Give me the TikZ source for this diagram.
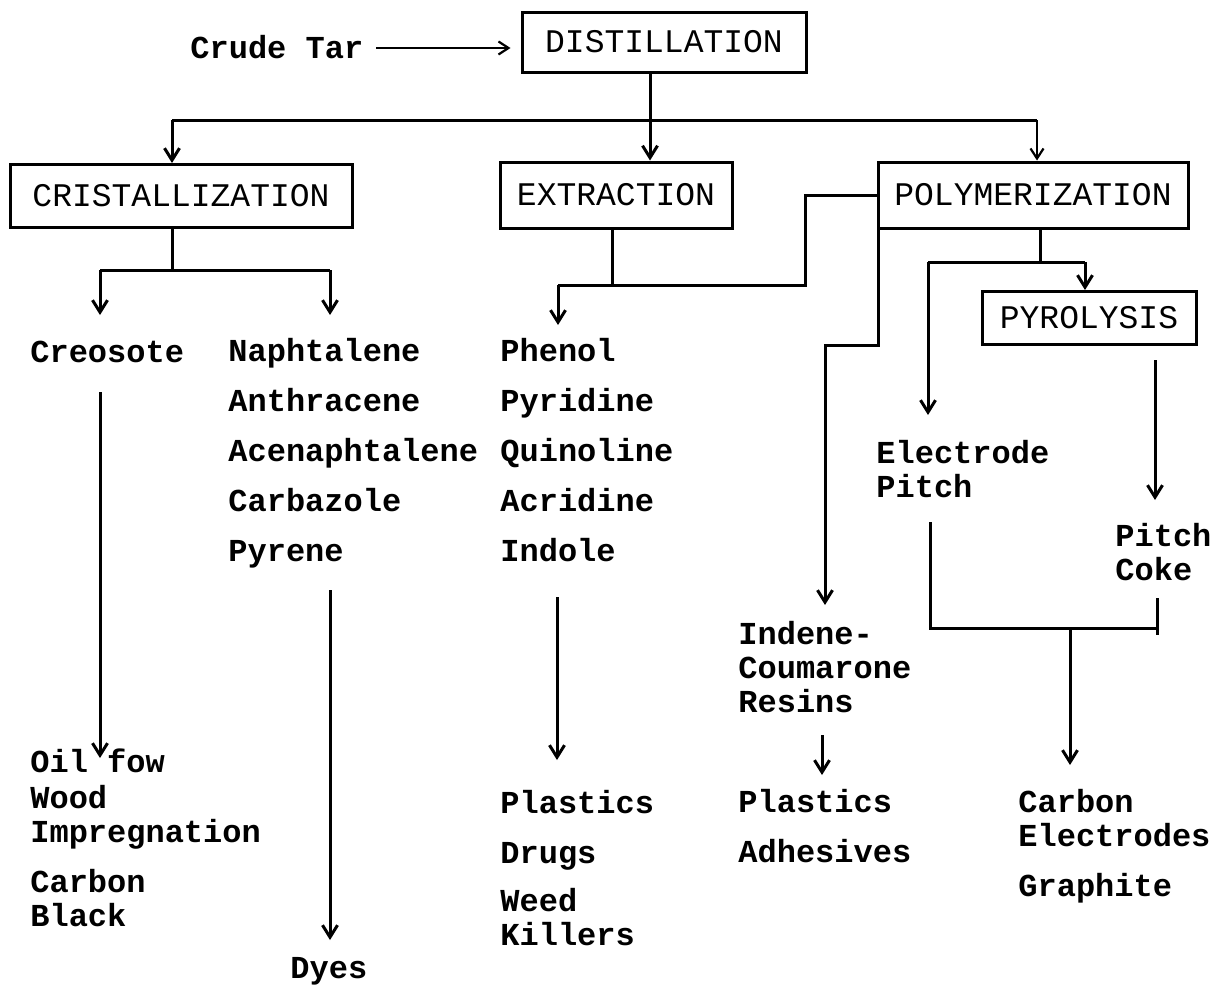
\documentclass[tikz,border=0pt]{standalone}
\usepackage{fontspec}
\setmonofont{Liberation Mono}
\usetikzlibrary{arrows.meta}
\begin{document}
\begin{tikzpicture}[x=0.5pt,y=-0.5pt,
  txt/.style={anchor=base west,inner sep=0pt,align=left,
    font=\ttfamily\bfseries\fontsize{16}{17}\selectfont},
  lst/.style={txt,font=\ttfamily\bfseries\fontsize{16}{25}\selectfont},
  proc/.style={draw,line width=1.5pt,inner sep=0pt,
    font=\ttfamily\fontsize{16.5}{17}\selectfont},
  ln/.style={line width=1.5pt},
  arr/.style={ln,-{Straight Barb[length=6pt,width=7.5pt]}},
  thinarr/.style={line width=1.1pt,-{Straight Barb[length=5pt,width=6.5pt]}}]
\useasboundingbox (0,0) rectangle (1216,991);

% process boxes
\node[proc,minimum width=142pt,minimum height=30pt] (dist) at (664,42) {DISTILLATION};
\node[proc,minimum width=171pt,minimum height=31.5pt] (crist) at (181,196) {CRISTALLIZATION};
\node[proc,minimum width=116pt,minimum height=33pt] (extr) at (616,195) {EXTRACTION};
\node[proc,minimum width=155pt,minimum height=33pt] (poly) at (1033,195) {POLYMERIZATION};
\node[proc,minimum width=107pt,minimum height=26.5pt] (pyro) at (1089,318) {PYROLYSIS};

% texts (base anchor = baseline of the last line)
\node[txt] (crude) at (190,58) {Crude Tar};
\node[txt] (creo) at (30,362) {Creosote};
\node[lst] (naph) at (228,561)
  {Naphtalene\\Anthracene\\Acenaphtalene\\Carbazole\\Pyrene};
\node[lst] (phen) at (500,561)
  {Phenol\\Pyridine\\Quinoline\\Acridine\\Indole};
\node[txt] (elp) at (876,497) {Electrode\\Pitch};
\node[txt] (pc) at (1115,580) {Pitch\\Coke};
\node[txt] (ind) at (738,712) {Indene-\\Coumarone\\Resins};
\node[txt] (pl2) at (738,862) {Plastics\\[8pt]Adhesives};
\node[txt] (ce) at (1018,896) {Carbon\\Electrodes\\[8pt]Graphite};
\node[txt] (oil) at (30,772) {Oil fow};
\node[txt] (wood) at (30,926) {Wood\\Impregnation\\[8pt]Carbon\\Black};
\node[txt] (pl1) at (500,945) {Plastics\\[8pt]Drugs\\[7pt]Weed\\Killers};
\node[txt] (dyes) at (290,978) {Dyes};

% coordinates
\coordinate (crA) at (376,48);
\coordinate (trunk) at (650,0);
\coordinate (busL) at (172,120);
\coordinate (busR) at (1037,120);
\coordinate (cjL) at (100,270);
\coordinate (cj) at (172,270);
\coordinate (cjR) at (330,270);
\coordinate (tCreo) at (100,315);
\coordinate (tNaph) at (330,315);
\coordinate (ejL) at (558,285);
\coordinate (ej) at (612,285);
\coordinate (ejR) at (805,285);
\coordinate (tPhen) at (558,325);
\coordinate (ic1) at (825,345);
\coordinate (tInd) at (825,605);
\coordinate (pjL) at (928,262);
\coordinate (pj) at (1040,262);
\coordinate (pjR) at (1085,262);
\coordinate (tElp) at (928,415);
\coordinate (pyS) at (1155,360);
\coordinate (tPc) at (1155,500);
\coordinate (jL) at (930,522);
\coordinate (jLb) at (930,628);
\coordinate (jRt) at (1157,598);
\coordinate (jRb) at (1157,635);
\coordinate (jM) at (1070,630);
\coordinate (tCe) at (1070,765);
\coordinate (rs) at (822,735);
\coordinate (tPl2) at (822,775);
\coordinate (a1s) at (100,392);
\coordinate (a1e) at (100,758);
\coordinate (a2s) at (330,590);
\coordinate (a2e) at (330,940);
\coordinate (a3s) at (557,597);
\coordinate (a3e) at (557,760);

% connectors
\draw[thinarr] (crA) -- ([xshift=-5pt]dist.west |- crA);
\draw[arr] (dist.south -| trunk) -- (extr.north -| trunk);
\draw[ln] (busL) -- (busR);
\draw[arr] (busL) -- (crist.north -| busL);
\draw[thinarr] (busR) -- (poly.north -| busR);

\draw[ln] (crist.south -| cj) -- (cj);
\draw[ln] (cjL) -- (cjR);
\draw[arr] (cjL) -- (tCreo);
\draw[arr] (cjR) -- (tNaph);

\draw[ln] (extr.south -| ej) -- (ej);
\draw[ln] (ejL) -- (ejR) |- (poly.west);
\draw[arr] (ejL) -- (tPhen);

\draw[arr] ([xshift=1pt]poly.south west) |- (ic1) -- (tInd);

\draw[ln] (poly.south -| pj) -- (pj);
\draw[ln] (pjL) -- (pjR);
\draw[arr] (pjR) -- (pyro.north -| pjR);
\draw[arr] (pjL) -- (tElp);
\draw[arr] (pyS) -- (tPc);

\draw[ln] (jL) -- (jLb) -- (jLb -| jRt);
\draw[ln] (jRt) -- (jRb);
\draw[arr] (jM) -- (tCe);
\draw[arr] (rs) -- (tPl2);

\draw[arr] (a1s) -- (a1e);
\draw[arr] (a2s) -- (a2e);
\draw[arr] (a3s) -- (a3e);
\end{tikzpicture}
\end{document}
